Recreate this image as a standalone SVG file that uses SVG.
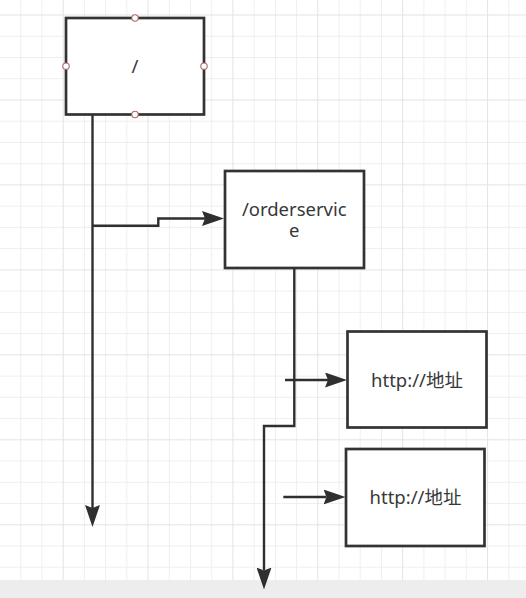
<svg xmlns="http://www.w3.org/2000/svg" width="526" height="598" viewBox="0 0 526 598">
  <style>
    .grid-minor { stroke: #efefef; stroke-width: 1; fill: none; }
    .grid-major { stroke: #e3e3e3; stroke-width: 1; fill: none; }
    .box { fill: #ffffff; stroke: #333333; stroke-width: 2.7; }
    .label { font-family: "Noto Sans", "Noto Sans CJK SC", sans-serif; font-size: 18.5px; fill: #383838; text-anchor: middle; }
    .edge { fill: none; stroke: #2f2f2f; stroke-width: 2.4; marker-end: url(#arrow); }
    .handle { fill: #ffffff; stroke: #a86a6a; stroke-width: 1.1; }
  </style>
  <defs>
    <marker id="arrow" markerUnits="userSpaceOnUse" markerWidth="22" markerHeight="15" viewBox="0 0 22 15" refX="3" refY="7.5" orient="auto">
      <path d="M0,0 L22,7.5 L0,15 L3,7.5 Z" fill="#2f2f2f"/>
    </marker>
  </defs>

  <!-- canvas -->
  <rect x="0" y="0" width="526" height="598" fill="#ffffff"/>
  <g id="grid">
    <path class="grid-minor" d="M20.7,0V580 M41.9,0V580 M84.4,0V580 M105.6,0V580 M126.8,0V580 M169.3,0V580 M190.5,0V580 M211.7,0V580 M254.1,0V580 M275.4,0V580 M296.6,0V580 M339,0V580 M360.2,0V580 M381.5,0V580 M423.9,0V580 M445.1,0V580 M466.3,0V580 M508.8,0V580
      M0,36.2H526 M0,57.5H526 M0,78.7H526 M0,121.2H526 M0,142.4H526 M0,163.7H526 M0,206.2H526 M0,227.4H526 M0,248.6H526 M0,291.1H526 M0,312.4H526 M0,333.6H526 M0,376.1H526 M0,397.3H526 M0,418.6H526 M0,461H526 M0,482.3H526 M0,503.5H526 M0,546H526 M0,567.2H526"/>
    <path class="grid-major" d="M63.2,0V580 M148,0V580 M232.9,0V580 M317.8,0V580 M402.7,0V580 M487.6,0V580
      M0,15H526 M0,100H526 M0,184.9H526 M0,269.9H526 M0,354.8H526 M0,439.8H526 M0,524.8H526"/>
  </g>
  <rect x="0" y="580" width="526" height="18" fill="#ededed"/>

  <!-- connectors -->
  <g id="connectors">
    <path class="edge" d="M92.5,114 V508"/>
    <path class="edge" d="M92.5,225.7 H158.3 V218.5 H205"/>
    <path class="edge" d="M294.3,268 V426 H264 V570.5"/>
    <path class="edge" d="M285,380 H328"/>
    <path class="edge" d="M283.3,497 H326.5"/>
  </g>

  <!-- nodes -->
  <g id="node-root">
    <rect class="box" x="66" y="18" width="138" height="96.5"/>
    <text class="label" x="135" y="73">/</text>
    <circle class="handle" cx="135" cy="18" r="3.2"/>
    <circle class="handle" cx="66" cy="66.2" r="3.2"/>
    <circle class="handle" cx="204" cy="66.2" r="3.2"/>
    <circle class="handle" cx="135" cy="114.5" r="3.2"/>
  </g>
  <g id="node-orderservice">
    <rect class="box" x="225" y="171" width="139" height="97"/>
    <text class="label" x="294.3" y="216">/orderservic<tspan x="294.3" dy="21">e</tspan></text>
  </g>
  <g id="node-http-1">
    <rect class="box" x="347.5" y="331.5" width="139" height="96"/>
    <text class="label" x="417" y="387">http://地址</text>
  </g>
  <g id="node-http-2">
    <rect class="box" x="346" y="449" width="138.5" height="97"/>
    <text class="label" x="415.5" y="504">http://地址</text>
  </g>
</svg>
